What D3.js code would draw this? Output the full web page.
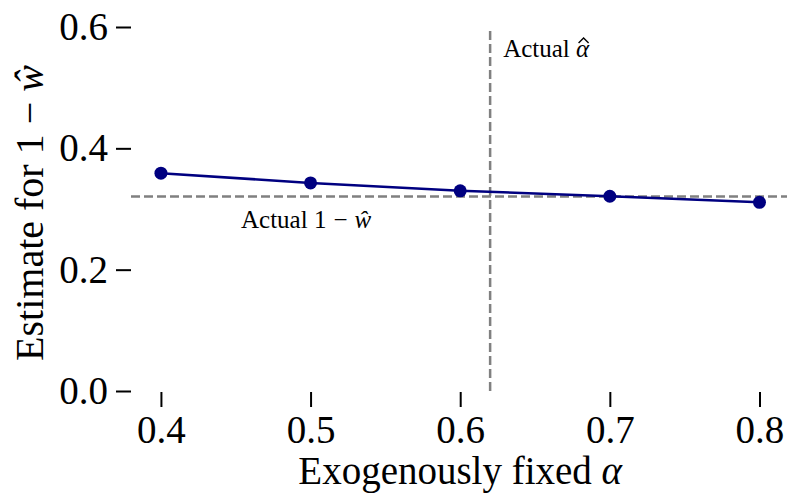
<!DOCTYPE html>
<html>
<head>
<meta charset="utf-8">
<script src="https://cdn.jsdelivr.net/npm/d3@7"></script>
<style>
  body { margin: 0; background: #fff; }
  text { font-family: "Liberation Serif", "Times New Roman", serif; }
</style>
</head>
<body>
<script>
// fixed alpha values and the resulting estimates
const alphas = [0.4, 0.5, 0.6, 0.7, 0.8];
const estimates = [0.359, 0.343, 0.330, 0.321, 0.311];
const xTicks = [0.4, 0.5, 0.6, 0.7, 0.8];
const yTicks = [0.0, 0.2, 0.4, 0.6];
const actualAlpha = 0.62;
const actualOneMinusW = 0.3205;

const width = 787;
const height = 495;

const x = d3.scaleLinear().domain([0.38, 0.82]).range([131, 789.4]);
const y = d3.scaleLinear().domain([0, 0.6]).range([391, 27]);

const svg = d3.select("body")
    .append("svg")
    .attr("width", width)
    .attr("height", height);

// reference lines
svg.append("line")
    .attr("x1", x(actualAlpha)).attr("x2", x(actualAlpha))
    .attr("y1", y(0)).attr("y2", y(0.6))
    .attr("stroke", "#808080")
    .attr("stroke-width", 2.5)
    .attr("stroke-dasharray", "9,4");

svg.append("line")
    .attr("x1", x.range()[0]).attr("x2", x.range()[1])
    .attr("y1", y(actualOneMinusW)).attr("y2", y(actualOneMinusW))
    .attr("stroke", "#808080")
    .attr("stroke-width", 2.5)
    .attr("stroke-dasharray", "9,4");

// series
const pts = alphas.map((a, i) => [a, estimates[i]]);

svg.append("path")
    .datum(pts)
    .attr("fill", "none")
    .attr("stroke", "#000080")
    .attr("stroke-width", 2.5)
    .attr("d", d3.line().x(d => x(d[0])).y(d => y(d[1])));

svg.append("g")
    .selectAll("circle")
    .data(pts)
    .join("circle")
    .attr("cx", d => x(d[0]))
    .attr("cy", d => y(d[1]))
    .attr("r", 6.5)
    .attr("fill", "#000080");

// axes (no spines, outward ticks)
const xAxis = svg.append("g")
    .attr("transform", "translate(0,392)")
    .call(d3.axisBottom(x).tickValues(xTicks).tickFormat(d3.format(".1f")).tickSize(15).tickPadding(8));

const yAxis = svg.append("g")
    .attr("transform", "translate(131,0)")
    .call(d3.axisLeft(y).tickValues(yTicks).tickFormat(d3.format(".1f")).tickSize(15).tickPadding(8));

[xAxis, yAxis].forEach(g => {
    g.select(".domain").remove();
    g.selectAll(".tick line").attr("stroke", "#000").attr("stroke-width", 2);
    g.selectAll(".tick text")
        .attr("fill", "#000")
        .style("font-size", "39px")
        .style("font-family", "'Liberation Serif', serif");
});

// axis labels
const xl = svg.append("text")
    .attr("x", (x.range()[0] + x.range()[1]) / 2)
    .attr("y", 484)
    .attr("text-anchor", "middle")
    .style("font-size", "39px");
xl.append("tspan").text("Exogenously fixed ");
xl.append("tspan").style("font-style", "italic").text("α");

const yl = svg.append("text")
    .attr("transform", "translate(43,213) rotate(-90)")
    .attr("text-anchor", "middle")
    .style("font-size", "40px");
yl.append("tspan").text("Estimate for 1");
yl.append("tspan").attr("dx", 10).text("\u2212");
yl.append("tspan").attr("dx", 10).style("font-style", "italic").text("ŵ");

// annotations
const a1x = x(actualAlpha) + 13, a1y = 57;
const a1 = svg.append("text")
    .attr("x", a1x)
    .attr("y", a1y)
    .style("font-size", "25px");
a1.append("tspan").text("Actual ");
a1.append("tspan").style("font-style", "italic").text("α");

// hat over alpha
const ext = a1.node().getExtentOfChar(7);
const hx = ext.x + ext.width / 2 + 1;
svg.append("path")
    .attr("d", `M${hx - 5},${a1y - 14} L${hx},${a1y - 19} L${hx + 5},${a1y - 14}`)
    .attr("fill", "none")
    .attr("stroke", "#000")
    .attr("stroke-width", 1.4);

const a2 = svg.append("text")
    .attr("x", 241)
    .attr("y", y(actualOneMinusW) + 31)
    .style("font-size", "25px");
a2.append("tspan").text("Actual 1");
a2.append("tspan").attr("dx", 7).text("\u2212");
a2.append("tspan").attr("dx", 7).style("font-style", "italic").text("ŵ");
</script>
</body>
</html>
